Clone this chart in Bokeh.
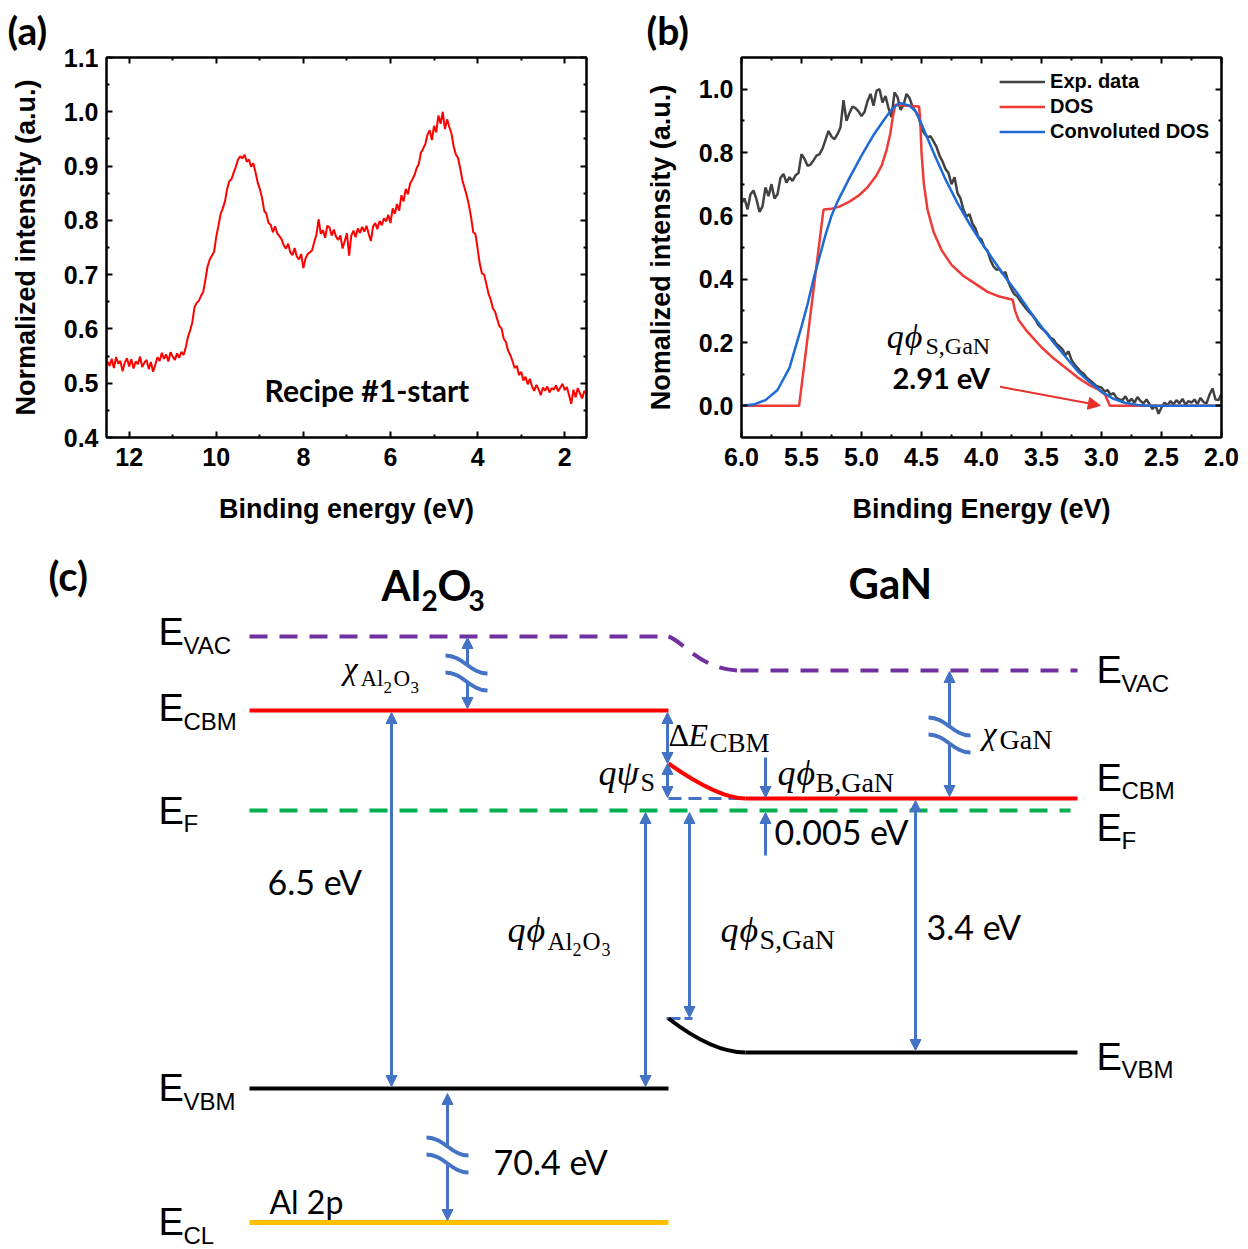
import numpy as np
from bokeh.plotting import figure
from bokeh.models import (Range1d, LinearAxis, Label, Arrow, NormalHead, FixedTicker, Title,
                          Legend, LegendItem, ColumnDataSource, PrintfTickFormatter)
from bokeh.layouts import column, row
from bokeh.embed import file_html
from bokeh.resources import INLINE
from bokeh.core.properties import value

# ---------------- data: panel (a) valence band spectrum (12.5 -> 1.5 eV, 0.05 eV step)
a_energy_start, a_energy_end = 12.50, 1.50
a_intensity = [
    0.540, 0.532, 0.545, 0.528, 0.548, 0.536, 0.541, 0.522, 0.538, 0.546, 0.531, 0.544, 0.527, 0.540, 0.535, 0.549, 0.530, 0.538, 0.543, 0.526, 0.539, 0.521, 0.534,
    0.548, 0.541, 0.556, 0.545, 0.553, 0.540, 0.557, 0.549, 0.543, 0.555, 0.547, 0.558,
    0.552, 0.566, 0.585, 0.597, 0.612, 0.640, 0.648, 0.652, 0.661, 0.668, 0.690, 0.715, 0.728, 0.735, 0.742, 0.770,
    0.790, 0.812, 0.822, 0.835, 0.858, 0.872, 0.876, 0.888, 0.899, 0.912, 0.918, 0.914, 0.921, 0.908, 0.912, 0.899, 0.905, 0.889, 0.870, 0.858,
    0.842, 0.818, 0.812, 0.795, 0.792, 0.778, 0.789, 0.776, 0.771, 0.765, 0.754, 0.748, 0.757, 0.741, 0.736, 0.749, 0.733, 0.728, 0.738, 0.712,
    0.730, 0.738, 0.741, 0.745, 0.760, 0.774, 0.802, 0.775, 0.782, 0.768, 0.790, 0.787, 0.772, 0.783, 0.770, 0.764, 0.772, 0.748, 0.762, 0.776,
    0.735, 0.772, 0.781, 0.769, 0.785, 0.777, 0.788, 0.779, 0.790, 0.775, 0.762, 0.789, 0.795, 0.784, 0.799, 0.791, 0.804, 0.798, 0.810, 0.795,
    0.822, 0.812, 0.830, 0.818, 0.846, 0.835, 0.858, 0.848, 0.868, 0.875, 0.883, 0.896, 0.904, 0.925, 0.932, 0.941, 0.958, 0.966, 0.948, 0.974,
    0.962, 0.993, 0.978, 1.000, 0.968, 0.986, 0.972, 0.960, 0.936, 0.922, 0.915, 0.896, 0.874, 0.860, 0.846, 0.828, 0.806, 0.778, 0.775, 0.748,
    0.720, 0.702, 0.700, 0.683, 0.665, 0.654, 0.638, 0.632, 0.618, 0.605, 0.601, 0.582, 0.576, 0.560, 0.552, 0.541, 0.528, 0.532, 0.515, 0.521,
    0.505, 0.512, 0.498, 0.508, 0.494, 0.486, 0.497, 0.489, 0.478, 0.492, 0.486, 0.494, 0.483, 0.491, 0.488, 0.496, 0.485, 0.492, 0.499, 0.487,
    0.493, 0.478, 0.462, 0.488, 0.474, 0.491, 0.481, 0.472, 0.486, 0.479]
a_energy = np.linspace(a_energy_start, a_energy_end, len(a_intensity))
a_xticks = [12, 10, 8, 6, 4, 2]
a_xminor = [13, 11, 9, 7, 5, 3, 1]
a_yticks = [0.4, 0.5, 0.6, 0.7, 0.8, 0.9, 1.0, 1.1]
a_yminor = [0.45, 0.55, 0.65, 0.75, 0.85, 0.95, 1.05]

# ---------------- data: panel (b) GaN valence band edge (6.0 -> 2.0 eV, 0.025 eV step)
b_exp_start, b_exp_end = 6.0, 2.0
b_exp = [
    0.640, 0.655, 0.620, 0.668, 0.680, 0.652, 0.612, 0.630, 0.690, 0.662,
    0.700, 0.655, 0.668, 0.720, 0.732, 0.705, 0.722, 0.710, 0.728, 0.735,
    0.795, 0.780, 0.758, 0.762, 0.775, 0.790, 0.795, 0.812, 0.840, 0.868,
    0.850, 0.842, 0.858, 0.880, 0.965, 0.900, 0.925, 0.945, 0.940, 0.930,
    0.915, 0.928, 0.962, 0.985, 0.948, 0.995, 1.000, 0.958, 0.978, 0.940,
    0.912, 0.990, 0.975, 0.935, 0.950, 0.985, 0.972, 0.945, 0.930, 0.915,
    0.875, 0.860, 0.848, 0.852, 0.835, 0.818, 0.790, 0.772, 0.748, 0.735,
    0.700, 0.722, 0.672, 0.655, 0.618, 0.598, 0.605, 0.575, 0.560, 0.532,
    0.525, 0.500, 0.490, 0.460, 0.440, 0.430, 0.432, 0.418, 0.422, 0.390,
    0.368, 0.352, 0.345, 0.330, 0.318, 0.305, 0.295, 0.285, 0.272, 0.255,
    0.245, 0.238, 0.228, 0.215, 0.210, 0.195, 0.188, 0.178, 0.160, 0.172,
    0.145, 0.130, 0.120, 0.108, 0.102, 0.090, 0.082, 0.074, 0.065, 0.060,
    0.058, 0.045, 0.050, 0.035, 0.040, 0.025, 0.020, 0.018, 0.030, 0.012,
    0.022, 0.010, 0.028, 0.015, 0.008, 0.020, 0.005, -0.010, 0.002, -0.025,
    -0.005, 0.010, 0.002, 0.015, 0.005, 0.018, 0.008, 0.022, 0.004, 0.015,
    0.010, 0.020, 0.006, 0.025, 0.012, 0.008, 0.035, 0.055, 0.020, 0.018,
    0.038]
b_exp_energy = np.linspace(b_exp_start, b_exp_end, len(b_exp))

b_dos_energy = [6.0, 5.52, 5.32, 5.315, 5.25, 5.18, 5.10, 5.02, 4.95, 4.88, 4.83, 4.79, 4.76, 4.74, 4.72,
                4.52, 4.51, 4.50, 4.48, 4.45, 4.40, 4.33, 4.25, 4.15, 4.05, 3.95, 3.85, 3.74,
                3.72, 3.69, 3.62, 3.50, 3.40, 3.30, 3.20, 3.10, 3.02, 2.97, 2.93, 2.0]
b_dos = [0.0, 0.0, 0.61, 0.62, 0.622, 0.63, 0.645, 0.665, 0.69, 0.725, 0.76, 0.81, 0.86, 0.91, 0.95,
         0.945, 0.90, 0.80, 0.70, 0.62, 0.55, 0.49, 0.445, 0.41, 0.385, 0.36, 0.345, 0.335,
         0.30, 0.27, 0.235, 0.185, 0.15, 0.12, 0.09, 0.065, 0.05, 0.035, 0.0, 0.0]

b_conv_energy = [6.0, 5.9, 5.8, 5.7, 5.6, 5.5, 5.45, 5.4, 5.35, 5.3, 5.25, 5.2, 5.1, 5.0, 4.9, 4.8, 4.75,
                 4.7, 4.67, 4.6, 4.55, 4.5, 4.45, 4.4, 4.3, 4.2, 4.1, 4.0, 3.9, 3.8, 3.7, 3.6, 3.5,
                 3.4, 3.3, 3.2, 3.1, 3.0, 2.9, 2.8, 2.7, 2.6, 2.0]
b_conv = [0.0, 0.004, 0.018, 0.05, 0.12, 0.25, 0.32, 0.40, 0.47, 0.54, 0.60, 0.645, 0.72, 0.79, 0.855, 0.91, 0.935,
          0.952, 0.956, 0.948, 0.93, 0.89, 0.845, 0.80, 0.715, 0.64, 0.575, 0.515, 0.46, 0.405, 0.355, 0.30, 0.25,
          0.20, 0.155, 0.11, 0.075, 0.045, 0.022, 0.009, 0.003, 0.0, 0.0]
b_xticks = [6.0, 5.5, 5.0, 4.5, 4.0, 3.5, 3.0, 2.5, 2.0]
b_xminor = [5.75, 5.25, 4.75, 4.25, 3.75, 3.25, 2.75, 2.25]
b_yticks = [0.0, 0.2, 0.4, 0.6, 0.8, 1.0]
b_yminor = [0.1, 0.3, 0.5, 0.7, 0.9]
b_vbm_edge = 2.91          # extracted surface potential (eV)
b_arrow_from = (3.845, 0.06)

# ---------------- data: panel (c) band diagram (diagram units)
ox_x = [249, 668]          # Al2O3 side
gan_x = [745, 1077]        # GaN bulk side
bend_x = [668, 745]        # band-bending region
ox_levels = dict(VAC=636, CBM=710, F=810, VBM=1088, CL=1222)
gan_levels = dict(VAC=670, CBM=798, F=810, VBM=1052)
surf_levels = dict(CBM=763, VBM=1018)
ef_end = 1070

SANS = "Liberation Sans"
SERIF = "Liberation Serif"
LATO = "Lato"
BLUE = "#4472c4"
K_SANS, K_SERIF = 0.41, 0.38   # baseline compensation (fraction of font size)


def style_axes(p, xt, xm, yt, ym, xfmt, yfmt, xlabel, ylabel):
    p.xgrid.visible = False
    p.ygrid.visible = False
    p.outline_line_color = "black"
    p.outline_line_width = 2
    p.xaxis.ticker = FixedTicker(ticks=xt, minor_ticks=xm)
    p.yaxis.ticker = FixedTicker(ticks=yt, minor_ticks=ym)
    p.xaxis.formatter = PrintfTickFormatter(format=xfmt)
    p.yaxis.formatter = PrintfTickFormatter(format=yfmt)
    p.xaxis.axis_label = xlabel
    p.yaxis.axis_label = ylabel
    for ax in (p.xaxis[0], p.yaxis[0]):
        ax.axis_line_width = 2
        ax.major_tick_in = 6
        ax.major_tick_out = 0
        ax.minor_tick_in = 3
        ax.minor_tick_out = 0
        ax.major_tick_line_width = 2
        ax.minor_tick_line_width = 2
        ax.major_label_text_font = SANS
        ax.major_label_text_font_style = "bold"
        ax.major_label_text_font_size = "25px"
        ax.major_label_text_color = "black"
        ax.axis_label_text_font = SANS
        ax.axis_label_text_font_style = "bold"
        ax.axis_label_text_font_size = "27px"
        ax.axis_label_text_color = "black"
    p.xaxis.major_label_standoff = 10
    p.xaxis.axis_label_standoff = 25
    p.yaxis.major_label_standoff = 8
    p.yaxis.axis_label_standoff = 20
    for loc, t, m in (("above", xt, xm), ("right", yt, ym)):
        ax = LinearAxis(ticker=FixedTicker(ticks=t, minor_ticks=m), major_label_text_color=None,
                        major_label_text_font_size="0px",
                        axis_line_width=2, major_tick_in=6, major_tick_out=0, minor_tick_in=3,
                        minor_tick_out=0, major_tick_line_width=2, minor_tick_line_width=2,
                        major_label_standoff=0)
        p.add_layout(ax, loc)


def panel_title(txt, off):
    return Title(text=txt, align="left", offset=off, text_font=LATO, text_font_style="bold",
                 text_font_size="39px", text_color="black", standoff=9, vertical_align="bottom")


# ================= panel (a)
pa = figure(width=620, height=530, x_range=Range1d(12.52, 1.5), y_range=Range1d(0.4, 1.1),
            output_backend="svg", toolbar_location=None,
            min_border_left=106, min_border_right=34, min_border_top=57, min_border_bottom=93)
pa.title = panel_title("(a)", -99)
style_axes(pa, a_xticks, a_xminor, a_yticks, a_yminor, "%d", "%.1f",
           "Binding energy (eV)", "Normalized intensity (a.u.)")
pa.line(a_energy, a_intensity, color="#ff0000", line_width=2)
pa.add_layout(Label(x=8.89, y=0.4866, text="Recipe #1-start", text_font=LATO, text_font_style="bold",
                    text_font_size="30px", text_color="black", text_baseline="alphabetic"))

# ================= panel (b)
pb = figure(width=628, height=530, x_range=Range1d(6.0, 2.0), y_range=Range1d(-0.1, 1.1),
            output_backend="svg", toolbar_location=None,
            min_border_left=121, min_border_right=27, min_border_top=57, min_border_bottom=91)
pb.title = panel_title("(b)", -95)
style_axes(pb, b_xticks, b_xminor, b_yticks, b_yminor, "%.1f", "%.1f",
           "Binding Energy (eV)", "Nomalized intensity (a.u.)")
r_exp = pb.line(b_exp_energy, b_exp, color="#424242", line_width=2.5)
r_dos = pb.line(b_dos_energy, b_dos, color="#ee3b36", line_width=2.5)
r_conv = pb.line(b_conv_energy, b_conv, color="#1f6bd6", line_width=2.5)
leg = Legend(items=[LegendItem(label="Exp. data", renderers=[r_exp]),
                    LegendItem(label="DOS", renderers=[r_dos]),
                    LegendItem(label="Convoluted DOS", renderers=[r_conv])],
             location="top_right", border_line_color=None, background_fill_alpha=0,
             label_text_font=SANS, label_text_font_style="bold", label_text_font_size="20px",
             label_text_color="black",
             glyph_width=46, glyph_height=25, label_height=25, spacing=0, padding=0, margin=12,
             label_standoff=5)
pb.add_layout(leg)
pb.add_layout(Label(x=4.79, y=0.2203, text="q", text_font=SERIF, text_font_style="italic",
                    text_font_size="34px", text_color="black", text_baseline="alphabetic"))
pb.add_layout(Label(x=4.64, y=0.2203, text="\u03d5", text_font=SERIF, text_font_style="italic",
                    text_font_size="34px", text_color="black", text_baseline="alphabetic"))
pb.add_layout(Label(x=4.467, y=0.1889, text="S,GaN", text_font=SERIF, text_color="black",
                    text_font_size="24px", text_baseline="alphabetic"))
pb.add_layout(Label(x=4.742, y=0.0884, text=f"{b_vbm_edge:.2f} eV", text_font=LATO, text_font_style="bold",
                    text_font_size="29px", text_color="black", text_baseline="alphabetic"))
pb.add_layout(Arrow(end=NormalHead(size=12, fill_color="#e8302a", line_color="#e8302a"),
                    x_start=b_arrow_from[0], y_start=b_arrow_from[1], x_end=b_vbm_edge + 0.10, y_end=0.001,
                    line_color="#e8302a", line_width=2))

# ================= panel (c)
pc = figure(width=1248, height=719, x_range=Range1d(0, 1248), y_range=Range1d(1249, 530),
            output_backend="svg", toolbar_location=None, x_axis_location=None, y_axis_location=None,
            min_border=0)
pc.xgrid.visible = False
pc.ygrid.visible = False
pc.outline_line_color = None

# energy levels
pc.line(ox_x, [ox_levels["VAC"]] * 2, color="#7030a0", line_width=4, line_dash="18 12")
pc.bezier(x0=[bend_x[0]], y0=[ox_levels["VAC"]], x1=[bend_x[1] - 5], y1=[gan_levels["VAC"]],
          cx0=[bend_x[0] + 14], cy0=[ox_levels["VAC"] + 4], cx1=[bend_x[0] + 32], cy1=[gan_levels["VAC"]],
          line_color="#7030a0", line_width=4, line_dash="18 12")
pc.line([bend_x[1] - 5, gan_x[1]], [gan_levels["VAC"]] * 2, color="#7030a0", line_width=4, line_dash="18 12")

pc.line([bend_x[0], bend_x[1]], [gan_levels["CBM"]] * 2, color=BLUE, line_width=3, line_dash="13 7")
pc.line([bend_x[0] - 2, bend_x[0] + 24], [surf_levels["VBM"]] * 2, color=BLUE, line_width=3, line_dash="14 4")

pc.line(ox_x, [ox_levels["CBM"]] * 2, color="#ff0000", line_width=4)
pc.quadratic(x0=[bend_x[0]], y0=[surf_levels["CBM"]], x1=[bend_x[1]], y1=[gan_levels["CBM"]],
             cx=[bend_x[0] + 50], cy=[gan_levels["CBM"]], line_color="#ff0000", line_width=4)
pc.line(gan_x, [gan_levels["CBM"]] * 2, color="#ff0000", line_width=4)

pc.line([ox_x[0], ef_end], [ox_levels["F"]] * 2, color="#00b050", line_width=4, line_dash="18 12")

pc.line(ox_x, [ox_levels["VBM"]] * 2, color="black", line_width=4)
pc.quadratic(x0=[bend_x[0]], y0=[surf_levels["VBM"]], x1=[bend_x[1]], y1=[gan_levels["VBM"]],
             cx=[bend_x[0] + 44], cy=[gan_levels["VBM"]], line_color="black", line_width=4)
pc.line(gan_x, [gan_levels["VBM"]] * 2, color="black", line_width=4)

pc.line(ox_x, [ox_levels["CL"]] * 2, color="#ffc000", line_width=5)

# arrows
dbl = ColumnDataSource(dict(
    x0=[391, 645, 667, 667, 689, 915],
    y0=[ox_levels["CBM"] + 2, ox_levels["F"] + 2, ox_levels["CBM"] + 2, surf_levels["CBM"], ox_levels["F"] + 2, gan_levels["CBM"] + 2],
    x1=[391, 645, 667, 667, 689, 915],
    y1=[ox_levels["VBM"] - 2, ox_levels["VBM"] - 2, surf_levels["CBM"], gan_levels["CBM"] - 1, surf_levels["VBM"] - 1, gan_levels["VBM"] - 2]))
pc.add_layout(Arrow(start=NormalHead(size=11, fill_color=BLUE, line_color=BLUE),
                    end=NormalHead(size=11, fill_color=BLUE, line_color=BLUE),
                    x_start="x0", y_start="y0", x_end="x1", y_end="y1", source=dbl,
                    line_color=BLUE, line_width=3))
sgl = ColumnDataSource(dict(
    x0=[467, 467, 949, 949, 447, 447, 765, 765],
    y0=[664, 681, 727, 742, 1147, 1163, 757, 855],
    x1=[467, 467, 949, 949, 447, 447, 765, 765],
    y1=[ox_levels["VAC"] + 1, ox_levels["CBM"] - 2, gan_levels["VAC"] + 1, gan_levels["CBM"] - 2,
        ox_levels["VBM"] + 5, ox_levels["CL"] - 2, gan_levels["CBM"] - 1, ox_levels["F"] + 2]))
pc.add_layout(Arrow(end=NormalHead(size=11, fill_color=BLUE, line_color=BLUE),
                    x_start="x0", y_start="y0", x_end="x1", y_end="y1", source=sgl,
                    line_color=BLUE, line_width=3))

# axis-break marks on the long arrows
brk_xc = [466, 949, 447]
brk_ytop = [655, 717, 1137]
bx0, by0, bx1, by1, bcx0, bcy0, bcx1, bcy1 = [], [], [], [], [], [], [], []
for xc, yt in zip(brk_xc, brk_ytop):
    for off in (0, 17):
        bx0.append(xc - 21); by0.append(yt + off)
        bcx0.append(xc - 4); bcy0.append(yt + off)
        bcx1.append(xc + 4); bcy1.append(yt + off + 18)
        bx1.append(xc + 21); by1.append(yt + off + 18)
pc.bezier(x0=bx0, y0=by0, x1=bx1, y1=by1, cx0=bcx0, cy0=bcy0, cx1=bcx1, cy1=bcy1,
          line_color=BLUE, line_width=4)


# texts: (text, x, baseline, size-in-px)
def text_source(items, k):
    return ColumnDataSource(dict(text=[t for t, _, _, _ in items], x=[x for _, x, _, _ in items],
                                 y=[b - k * s for _, _, b, s in items],
                                 size=[f"{s}px" for _, _, _, s in items]))


E_items = [("E", 158, 647, 38), ("E", 158, 723, 38), ("E", 158, 826, 38), ("E", 158, 1103, 38), ("E", 158, 1237, 38),
           ("E", 1096, 685, 38), ("E", 1096, 793, 38), ("E", 1096, 843, 38), ("E", 1096, 1072, 38),
           ("VAC", 183, 655, 24), ("CBM", 183, 731, 24), ("F", 183, 833, 24), ("VBM", 183, 1111, 24), ("CL", 183, 1245, 24),
           ("VAC", 1121, 693, 24), ("CBM", 1121, 800, 24), ("F", 1121, 850, 24), ("VBM", 1121, 1079, 24)]
pc.text(x="x", y="y", text="text", source=text_source(E_items, K_SANS), text_font=value(SANS),
        text_font_size="size", text_baseline="alphabetic", text_color="black")

lato_reg = [("6.5 eV", 267, 895, 34), ("70.4 eV", 493, 1175, 34), ("3.4 eV", 926, 940, 34),
            ("0.005 eV", 774, 845, 34), ("Al 2p", 269, 1214, 32)]
pc.text(x="x", y="y", text="text", source=text_source(lato_reg, K_SANS), text_font=value(LATO),
        text_font_size="size", text_baseline="alphabetic", text_color="black")
lato_bold = [("(c)", 48, 592, 40), ("Al", 381, 602, 42), ("2", 421, 611, 28), ("O", 437, 602, 42),
             ("3", 468, 611, 28), ("GaN", 848, 600, 42)]
pc.text(x="x", y="y", text="text", source=text_source(lato_bold, K_SANS), text_font=value(LATO),
        text_font_style="bold", text_font_size="size", text_baseline="alphabetic", text_color="black")

ser_it = [("\u03c7", 343, 680, 32), ("q", 507, 943, 36), ("\u03d5", 526, 943, 36), ("E", 688, 747, 32),
          ("q", 598, 786, 36), ("\u03c8", 616, 786, 36), ("q", 777, 786, 36), ("\u03d5", 796, 786, 36),
          ("\u03c7", 982, 745, 32), ("q", 720, 943, 36), ("\u03d5", 739, 943, 36)]
pc.text(x="x", y="y", text="text", source=text_source(ser_it, K_SERIF), text_font=value(SERIF),
        text_font_style="italic", text_font_size="size", text_baseline="alphabetic", text_color="black")
ser_up = [("Al", 360, 687, 23), ("2", 383, 693, 17), ("O", 393, 687, 23), ("3", 410, 693, 17),
          ("Al", 547, 950, 25), ("2", 572, 956, 18), ("O", 582, 950, 25), ("3", 601, 956, 18),
          ("\u0394", 668, 747, 32), ("CBM", 709, 753, 27), ("S", 640, 792, 26), ("B,GaN", 815, 793, 28),
          ("GaN", 999, 750, 28), ("S,GaN", 759, 950, 28)]
pc.text(x="x", y="y", text="text", source=text_source(ser_up, K_SERIF), text_font=value(SERIF),
        text_font_size="size", text_baseline="alphabetic", text_color="black")

layout = column(row(pa, pb), pc)
html = file_html(layout, INLINE)
html = html.replace("</head>", "<style>body{margin:0;padding:0;}</style></head>", 1)
open("out.html", "w").write(html)
